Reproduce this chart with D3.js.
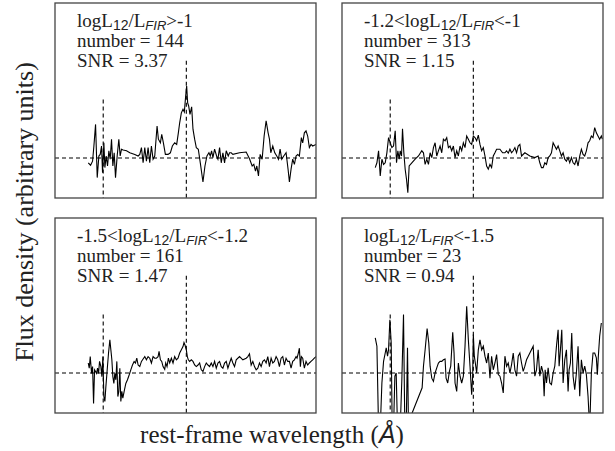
<!DOCTYPE html>
<html>
<head>
<meta charset="utf-8">
<script src="https://cdn.jsdelivr.net/npm/d3@7"></script>
<style>
  html, body { margin: 0; padding: 0; background: #fff; }
  svg { display: block; }
</style>
</head>
<body>
<svg id="chart" width="615" height="451"></svg>
<script>
// ---------------- DATA ----------------
// wavelength offsets (arbitrary units) and flux (arbitrary units, 0 = continuum)
const p1Wave = [100,107,113,117,122,127,132,136,140,143,147,150,154,158,162,166,170,174,178,182,187,192,196,200,205,215,225,240,250,255,260,265,270,275,280,285,290,295,300,307,311,317,321,326,332,340,347,353,360,366,371,375,380,385,389,393,396,399,402,406,411,415,420,425,431,437,445,451,457,463,467,471,475,480,486,490,495,500,505,510,515,521,525,530,535,555,575,585,593,598,603,607,612,617,623,629,635,641,645,649,655,661,667,672,677,682,688,695,701,705,710,715,720,725,730,735,741,745,750,755,760,765,770,775,785];
const p1Flux = [-0.12,-0.18,-0.08,0.30,0.84,-0.49,0.05,0.09,0.30,-0.37,0.38,-0.24,0.05,-0.20,0.18,-0.03,0.47,-0.20,0.13,-0.49,0.05,0.47,0.05,0.22,0.20,0.18,0.13,0.09,0.05,0.09,0.26,-0.12,0.26,-0.08,0.26,-0.12,0.30,-0.03,0.05,0.80,0.47,0.38,0.59,0.38,0.09,0.09,0.13,0.30,0.38,0.34,0.63,0.88,1.13,1.22,1.15,1.55,1.80,1.38,1.30,1.09,1.28,0.72,0.47,0.26,0.22,-0.12,-0.60,-0.20,0.05,0.13,0.05,0.18,0.01,0.22,0.05,-0.03,0.26,-0.12,0.13,-0.12,0.18,0.05,0.13,0.13,0.09,0.13,0.15,-0.02,-0.20,-0.16,-0.33,-0.20,-0.45,0.09,-0.03,0.55,0.93,0.63,0.47,0.13,0.30,0.13,0.05,-0.03,0.22,-0.03,0.05,0.13,-0.28,-0.60,-0.28,-0.03,-0.16,0.05,0.09,0.05,0.51,0.38,0.63,0.68,0.55,0.26,0.34,0.30,0.34];

const p2Wave = [100,105,110,115,120,125,130,135,140,145,150,155,160,164,168,172,175,179,182,186,190,194,198,202,210,220,230,240,245,250,255,260,265,270,275,280,285,290,295,300,305,310,315,320,325,330,335,340,345,350,355,360,365,370,375,380,385,390,395,400,405,410,415,420,425,430,435,440,445,450,455,460,465,475,483,490,495,500,505,510,515,520,525,530,535,540,550,565,580,590,595,600,605,610,615,620,625,630,635,640,645,650,655,660,665,670,675,680,685,690,695,700,705,710,715,720,725,730,735,740,745,750,755,760,765,770,775,780,783];
const p2Flux = [-0.24,-0.12,0.18,-0.45,-0.03,-0.16,-0.12,0.13,0.51,0.38,0.26,0.30,0.68,-0.12,0.18,-0.03,0.18,0.05,0.73,0.13,-0.28,-0.53,-0.87,-0.20,-0.12,-0.03,0.05,0.18,0.13,-0.16,-0.03,-0.16,0.13,0.01,0.26,0.38,0.05,0.18,0.30,0.13,0.47,0.43,0.51,0.26,0.30,0.18,0.30,0.01,0.18,0.05,0.30,0.18,0.38,0.26,0.55,0.47,0.38,0.34,0.55,0.51,0.43,0.57,0.34,0.18,0.26,0.05,-0.20,-0.28,-0.16,-0.24,0.05,0.13,0.22,0.22,0.13,0.13,0.18,0.12,0.22,0.13,0.18,0.26,0.13,0.30,0.34,0.05,0.13,0.05,0.01,0.05,-0.12,-0.24,-0.24,-0.12,-0.16,0.01,0.05,0.13,0.38,0.30,0.22,0.30,0.18,0.05,0.13,-0.03,-0.08,0.01,-0.12,0.01,-0.12,-0.16,-0.03,-0.20,0.05,0.22,0.09,0.05,0.18,0.38,0.43,0.55,0.51,0.76,0.63,0.55,0.47,0.55,0.47];

const p3Wave = [100,103,106,110,113,116,119,122,125,128,131,134,138,141,144,147,150,153,157,161,165,168,171,174,177,180,183,186,189,192,195,198,201,204,208,213,218,223,228,233,238,242,246,250,255,260,265,270,275,280,285,290,295,300,305,310,313,317,321,325,330,333,337,341,345,350,355,360,365,370,375,380,385,388,391,395,398,401,405,410,415,420,425,430,435,440,445,450,455,460,465,470,475,480,485,490,495,500,505,510,515,520,525,530,535,540,545,555,565,575,580,585,590,595,600,605,610,615,620,625,630,635,640,645,650,655,660,665,670,675,680,685,690,695,700,705,710,715,720,725,728,732,735,738,741,745,750,755,760,765,770,775,780,785];
const p3Flux = [0.25,0.12,0.41,-0.01,0.16,-0.76,0.08,0.04,-0.01,0.12,-0.01,0.29,0.16,-0.09,0.41,-0.59,-0.71,-0.34,0.08,0.50,0.83,0.58,0.33,-0.09,-0.26,-0.01,-0.17,0.29,-0.59,-0.46,0.12,-0.71,-0.46,-0.63,-0.46,-0.26,-0.17,-0.05,0.08,0.20,0.29,0.25,0.37,0.20,0.16,0.29,0.35,0.41,0.33,0.41,0.37,0.25,0.41,0.37,0.37,0.41,0.54,0.33,0.29,0.16,0.09,0.25,0.16,0.37,0.25,0.37,0.25,0.41,0.33,0.37,0.50,0.58,0.66,0.76,0.70,0.58,0.41,0.33,0.29,0.33,0.29,0.20,0.16,0.20,0.25,0.08,0.04,0.16,0.25,0.20,0.16,0.25,0.16,0.29,0.12,0.25,0.29,0.16,0.12,0.25,0.29,0.12,0.25,0.37,0.25,0.16,0.33,0.41,0.33,0.37,0.41,0.48,0.20,0.29,0.16,0.08,0.12,0.25,0.16,0.29,0.33,0.25,0.41,0.16,0.37,0.25,0.29,0.41,0.33,0.16,0.37,0.41,0.20,0.37,0.29,0.29,0.12,0.29,0.33,0.41,0.37,0.50,0.62,0.16,0.41,0.37,0.12,0.29,0.20,0.25,0.29,0.33,0.37,0.41];

const p4Wave = [100,105,110,115,120,125,130,133,137,140,144,148,151,155,159,163,167,171,175,180,185,189,193,197,200,205,211,241,245,250,256,261,265,270,275,280,285,290,295,300,305,310,313,318,323,327,333,337,340,345,350,355,360,365,370,375,380,385,390,393,395,398,401,405,410,415,420,425,430,435,440,445,450,455,460,465,470,475,480,485,490,495,500,505,510,515,520,525,530,535,540,545,550,555,565,575,580,585,590,595,600,605,608,611,615,620,625,630,635,640,645,650,653,657,661,665,670,675,680,683,687,691,695,700,705,710,715,720,725,730,735,740,745,750,755,760,765,768,771,775,780];
const p4Flux = [0.88,0.67,-1.4,-1.4,-0.25,0.29,0.50,0.63,0.42,0.58,1.33,0.75,-1.4,-1.4,-0.08,0.00,-1.4,-1.4,-1.4,-0.17,1.46,-1.4,-1.4,0.63,-1.4,-1.4,-1.0,-0.37,0.17,0.58,1.11,0.75,0.17,-0.13,-0.21,0.00,0.13,0.25,0.29,0.29,0.33,0.35,-0.13,-0.25,0.04,0.17,1.02,0.50,-0.25,-0.46,0.25,-0.08,-0.25,-0.08,0.67,1.67,0.83,0.17,-0.54,-0.08,0.96,0.42,0.25,0.00,0.58,0.83,0.58,0.67,0.42,0.25,0.50,-0.13,0.42,0.08,0.25,0.46,-0.04,-0.08,-0.25,-0.50,0.42,0.17,0.25,0.00,0.21,0.50,0.08,-0.08,0.42,0.50,0.25,0.04,0.17,0.33,0.50,0.67,-0.08,0.08,0.58,-0.08,0.17,0.00,-0.58,0.08,-0.25,0.13,-0.25,-0.29,0.00,0.17,0.67,1.08,0.17,0.58,1.08,-0.25,0.33,0.58,-0.46,0.08,0.25,1.00,-0.08,-0.42,0.00,0.67,-0.58,0.33,0.00,0.17,-0.04,-0.58,-1.4,0.00,0.50,0.50,0.38,-0.04,0.42,0.92,1.25];

const panelWaves = [p1Wave, p2Wave, p3Wave, p4Wave];
const panelFluxes = [p1Flux, p2Flux, p3Flux, p4Flux];

// label parts of the logL12/LFIR condition
const labelPrefix = ["", "-1.2<", "-1.5<", ""];
const labelSuffix = [">-1", "<-1", "<-1.2", "<-1.5"];
const sampleNumbers = [144, 313, 161, 23];
const snrValues = ["3.37", "1.15", "1.47", "0.94"];

// emission-line markers: wavelength and marker top
const lineWaves = [145, 395];
const lineTops = [1.46, 2.43];

const xDomain = [0, 785];
const yDomain = [-1, 3.875];

// ---------------- LAYOUT ----------------
const svg = d3.select("#chart");
const panelW = 261, panelH = 195;
const panelX = [55, 342, 55, 342];
const panelY = [3, 3, 218, 218];

const x = d3.scaleLinear().domain(xDomain).range([0, panelW]);
const y = d3.scaleLinear().domain(yDomain).range([panelH, 0]);

const serif = "'Liberation Serif', 'Times New Roman', serif";
const sans = "'Liberation Sans', Arial, sans-serif";

const defs = svg.append("defs");
defs.append("clipPath").attr("id", "clip")
  .append("rect").attr("x", 0).attr("y", 0).attr("width", panelW).attr("height", panelH);

const lineGen = d3.line().x(d => x(d[0])).y(d => y(d[1]));

for (let i = 0; i < 4; i++) {
  const g = svg.append("g").attr("transform", `translate(${panelX[i]},${panelY[i]})`);

  g.append("line")
    .attr("x1", x(xDomain[0])).attr("x2", x(xDomain[1]))
    .attr("y1", y(0)).attr("y2", y(0))
    .attr("stroke", "#000").attr("stroke-width", 1.1)
    .attr("stroke-dasharray", "4,3");

  lineWaves.forEach((w, k) => {
    g.append("line")
      .attr("x1", x(w)).attr("x2", x(w))
      .attr("y1", y(lineTops[k])).attr("y2", y(yDomain[0]))
      .attr("stroke", "#000").attr("stroke-width", 1.1)
      .attr("stroke-dasharray", "4,3");
  });

  const pts = panelWaves[i].map((w, j) => [w, panelFluxes[i][j]]);
  g.append("path")
    .attr("clip-path", "url(#clip)")
    .attr("d", lineGen(pts))
    .attr("fill", "none")
    .attr("stroke", "#000")
    .attr("stroke-width", 1.1)
    .attr("stroke-linejoin", "miter");

  g.append("rect")
    .attr("x", 0).attr("y", 0).attr("width", panelW).attr("height", panelH)
    .attr("fill", "none").attr("stroke", "#444").attr("stroke-width", 1.3);

  const fs = 19;
  const t = g.append("text")
    .attr("x", 22).attr("y", 24)
    .attr("font-family", serif).attr("font-size", fs).attr("fill", "#222");
  t.append("tspan").text(labelPrefix[i] + "logL");
  t.append("tspan").attr("font-family", sans).attr("font-size", 14).attr("dy", 3).text("12");
  t.append("tspan").attr("dy", -3).text("/L");
  t.append("tspan").attr("font-family", sans).attr("font-style", "italic").attr("font-size", 13).attr("dy", 3).text("FIR");
  t.append("tspan").attr("dy", -3).text(labelSuffix[i]);

  g.append("text")
    .attr("x", 22).attr("y", 44)
    .attr("font-family", serif).attr("font-size", fs).attr("fill", "#222")
    .text("number = " + sampleNumbers[i]);
  g.append("text")
    .attr("x", 22).attr("y", 64)
    .attr("font-family", serif).attr("font-size", fs).attr("fill", "#222")
    .text("SNR = " + snrValues[i]);
}

const xt = svg.append("text")
  .attr("x", 272).attr("y", 443)
  .attr("text-anchor", "middle")
  .attr("font-family", serif).attr("font-size", 25).attr("fill", "#222");
xt.append("tspan").text("rest-frame wavelength (");
xt.append("tspan").attr("font-family", sans).attr("font-style", "italic").text("Å");
xt.append("tspan").text(")");

svg.append("text")
  .attr("transform", "translate(33,212) rotate(-90)")
  .attr("text-anchor", "middle")
  .attr("font-family", serif).attr("font-size", 26).attr("fill", "#222")
  .text("Flux density (arbitrary units)");
</script>
</body>
</html>
